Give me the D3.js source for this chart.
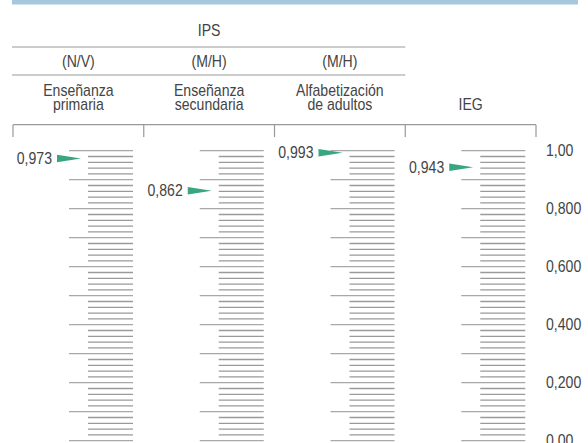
<!DOCTYPE html>
<html>
<head>
<meta charset="utf-8">
<script src="https://cdn.jsdelivr.net/npm/d3@7"></script>
<style>
  body { margin: 0; background: #fff; }
  text { font-family: "Liberation Sans", Arial, sans-serif; fill: #444; }
</style>
</head>
<body>
<div id="chart"></div>
<script>
// columns and header labels
const columns = ["Enseñanza primaria", "Enseñanza secundaria", "Alfabetización de adultos", "IEG"];
const columnLines = [["Enseñanza", "primaria"], ["Enseñanza", "secundaria"], ["Alfabetización", "de adultos"], ["IEG"]];
const ratioLabels = ["(N/V)", "(M/H)", "(M/H)"];
const groupLabel = "IPS";

// index values per column
const values = [0.973, 0.862, 0.993, 0.943];
const valueLabels = ["0,973", "0,862", "0,993", "0,943"];

// right axis
const axisTicks = [1.0, 0.8, 0.6, 0.4, 0.2, 0.0];
const axisLabels = ["1,00", "0,800", "0,600", "0,400", "0,200", "0,00"];

const width = 588, height = 443;
const fontSize = 16;
const narrow = 0.88; // condensed look

const svg = d3.select("#chart").append("svg")
    .attr("width", width)
    .attr("height", height);

const x = d3.scaleBand().domain(columns).range([13, 536]);
const y = d3.scaleLinear().domain([0, 1]).range([440.7, 150.7]);

// narrow text placed at (tx, ty)
function label(parent, tx, ty, str, anchor, dy) {
    return parent.append("text")
        .attr("transform", `translate(${tx},${ty}) scale(${narrow},1)`)
        .attr("text-anchor", anchor || "start")
        .attr("dy", dy || 0)
        .style("font-size", fontSize + "px")
        .text(str);
}

// top band
svg.append("rect")
    .attr("x", 12).attr("y", 0)
    .attr("width", 566).attr("height", 4.5)
    .attr("fill", "#a7c7dc");

// header: IPS group
const ipsRight = x(columns[3]);
label(svg, (13 + ipsRight) / 2, 36, groupLabel, "middle");

[47, 75].forEach(yy => {
    svg.append("line")
        .attr("x1", 12).attr("x2", ipsRight)
        .attr("y1", yy).attr("y2", yy)
        .attr("stroke", "#999").attr("stroke-width", 1.2);
});

ratioLabels.forEach((d, i) => {
    label(svg, x(columns[i]) + x.bandwidth() / 2, 67, d, "middle");
});

// column titles (two lines share one text element)
columnLines.forEach((lines, i) => {
    const cx = x(columns[i]) + x.bandwidth() / 2;
    const t = label(svg, cx, lines.length === 1 ? 110 : 96, "", "middle");
    lines.forEach((l, j) => {
        t.append("tspan").attr("x", 0).attr("dy", j === 0 ? 0 : 14).text(l);
    });
});

// top rule with ticks
svg.append("line")
    .attr("x1", 13).attr("x2", 536)
    .attr("y1", 124.7).attr("y2", 124.7)
    .attr("stroke", "#999").attr("stroke-width", 1.2);

svg.selectAll(".divider")
    .data(columns.map(c => x(c)).concat([536]))
    .enter().append("line")
    .attr("class", "divider")
    .attr("x1", d => d).attr("x2", d => d)
    .attr("y1", 124.7).attr("y2", 137)
    .attr("stroke", "#999").attr("stroke-width", 1.2);

// scales in each column
const tickVals = d3.range(0, 51);
columns.forEach((c, i) => {
    const left = x(c) + 56;
    const g = svg.append("g");
    g.selectAll("line")
        .data(tickVals)
        .enter().append("line")
        .attr("x1", d => d % 5 === 0 ? left : left + 19)
        .attr("x2", left + 64)
        .attr("y1", d => y(d / 50))
        .attr("y2", d => y(d / 50))
        .attr("stroke", d => d % 5 === 0 ? "#a8a8a8" : "#9a9a9a")
        .attr("stroke-width", 1.3);

    // marker
    const vy = y(values[i]);
    const tip = left + 12;
    g.append("path")
        .attr("d", `M${tip - 24},${vy - 3.8}L${tip},${vy}L${tip - 24},${vy + 3.8}Z`)
        .attr("fill", "#3aa67f");
    label(g, tip - 29, vy, valueLabels[i], "end", "0.35em");
});

// right axis labels
axisTicks.forEach((d, i) => {
    label(svg, 546, y(d), axisLabels[i], "start", "0.35em");
});
</script>
</body>
</html>
